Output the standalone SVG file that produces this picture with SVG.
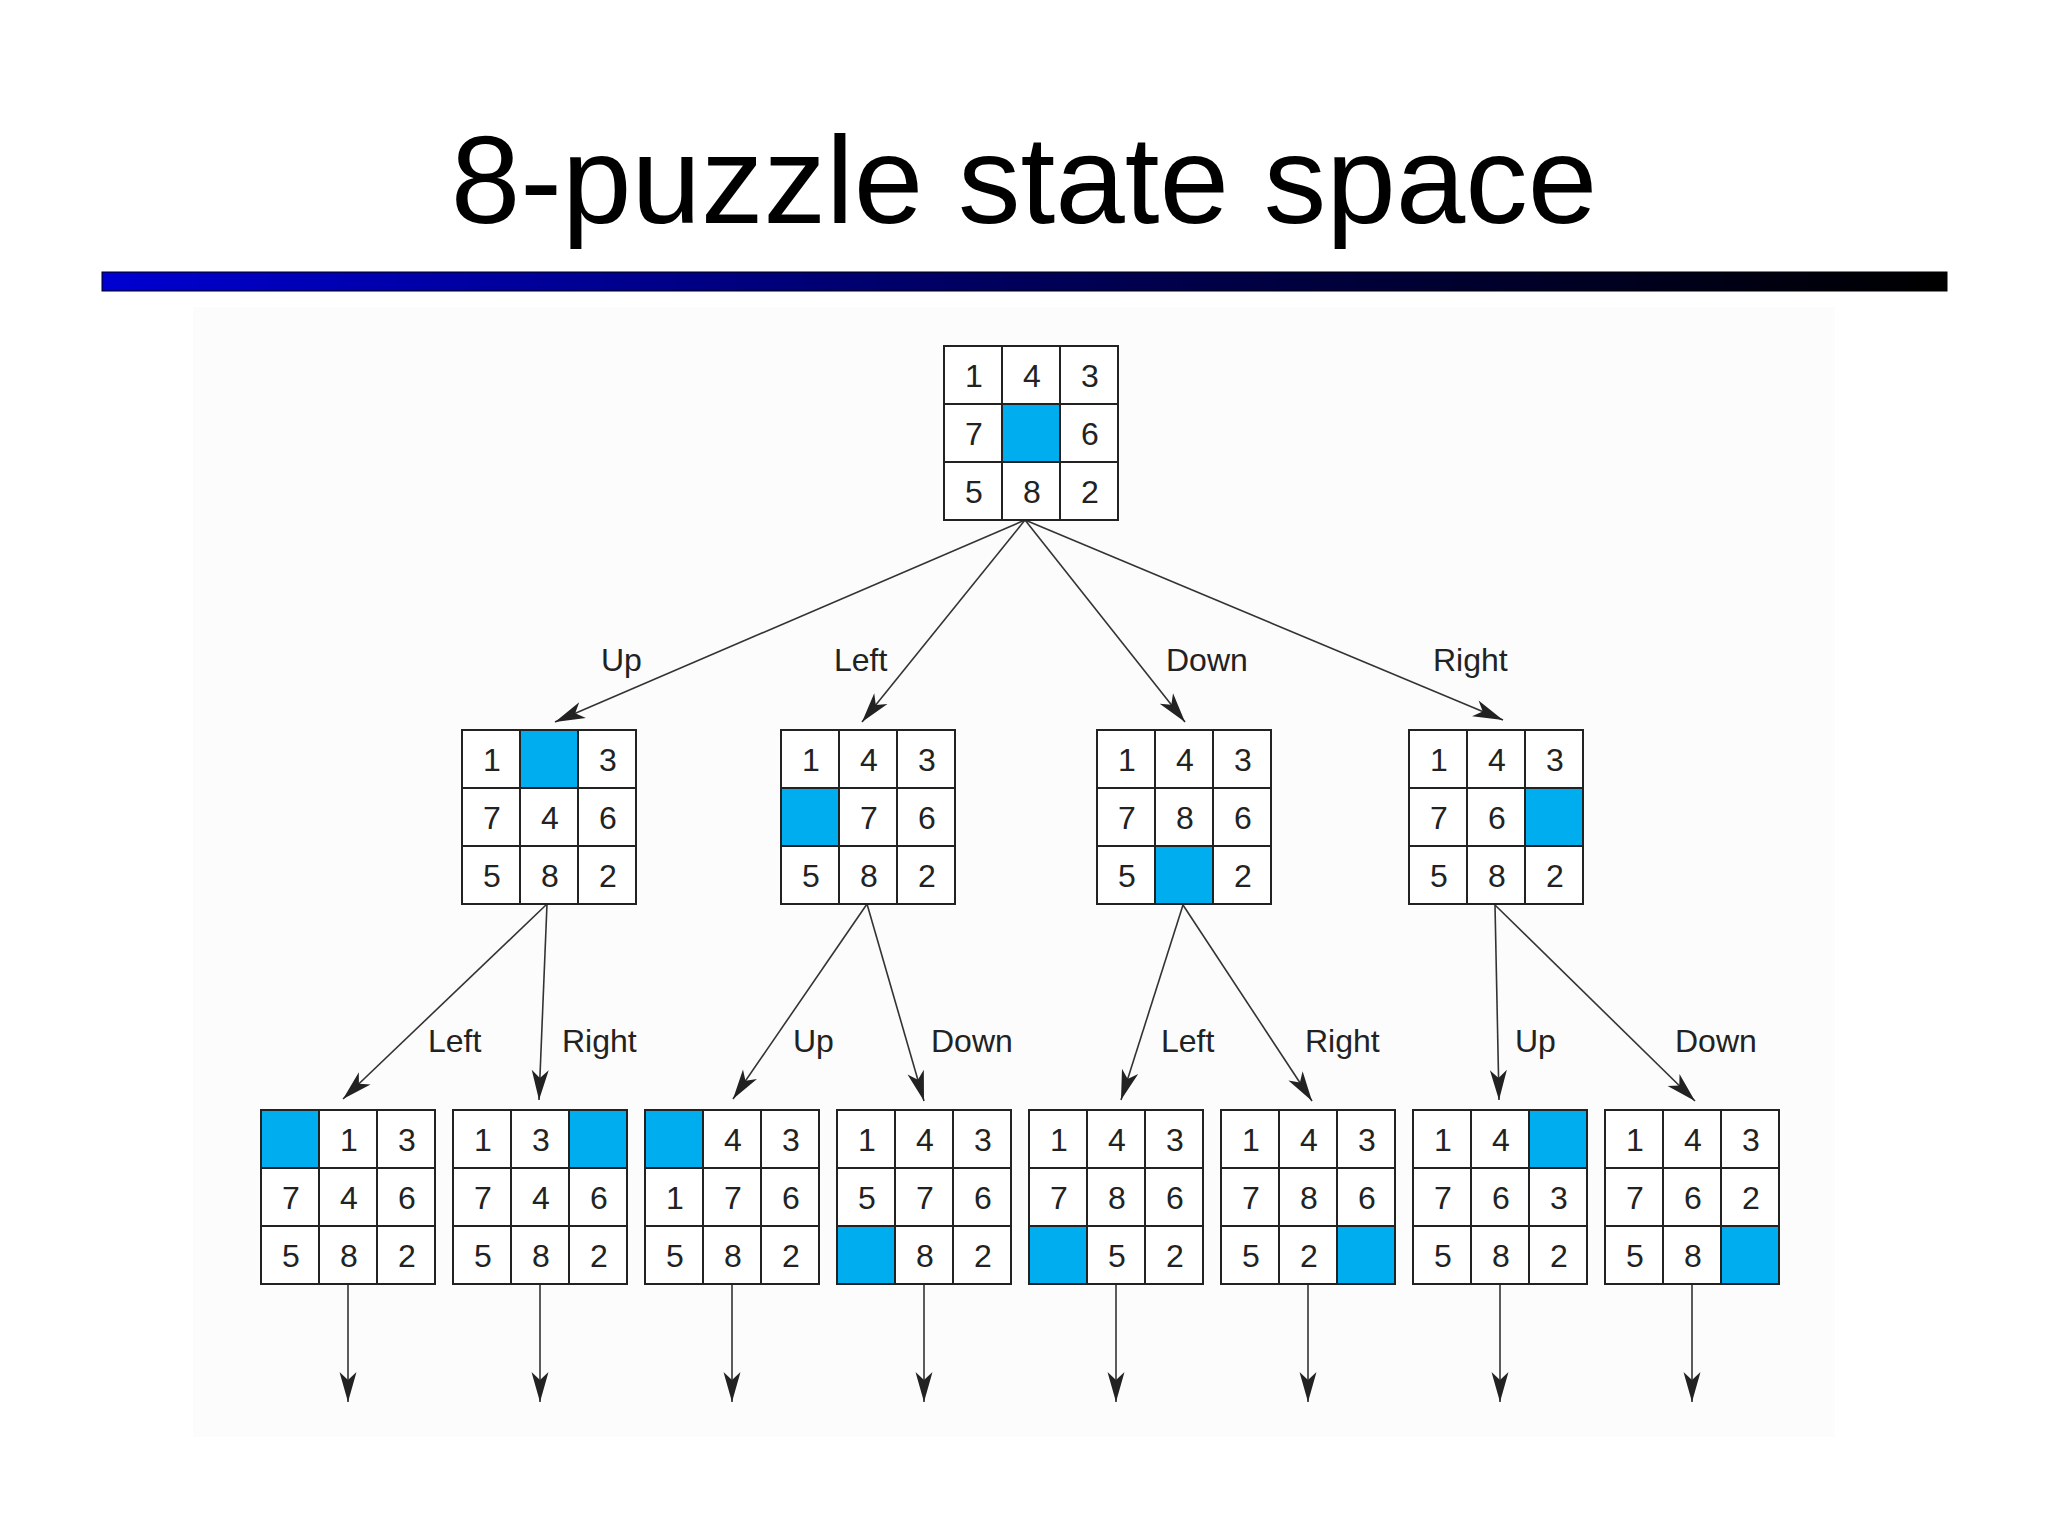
<svg xmlns="http://www.w3.org/2000/svg" xmlns:xlink="http://www.w3.org/1999/xlink" width="2048" height="1536" viewBox="0 0 2048 1536">
<style>
.title{font-family:"Liberation Sans",Arial,sans-serif;font-size:125px;fill:#000;text-anchor:middle}
.d{font-family:"Liberation Sans",Arial,sans-serif;font-size:32px;fill:#222;text-anchor:middle}
.lbl{font-family:"Liberation Sans",Arial,sans-serif;font-size:32px;fill:#222}
.grid{fill:none;stroke:#222;stroke-width:2}
.bg{fill:#fff}
.blank{fill:#00AEEF}
.edge{fill:none;stroke:#333;stroke-width:1.6;marker-end:url(#ah)}
</style>
<defs>
<linearGradient id="bar" x1="0" y1="0" x2="1" y2="0">
<stop offset="0" stop-color="#0000D2"/>
<stop offset="0.5" stop-color="#00005A"/>
<stop offset="1" stop-color="#000000"/>
</linearGradient>
<marker id="ah" markerUnits="userSpaceOnUse" markerWidth="32" markerHeight="18" viewBox="-32 -9 32 18" refX="0" refY="0" orient="auto">
<path d="M0,0 L-30,-8.5 L-22,0 L-30,8.5 Z" fill="#222"/>
</marker>
<path id="g" class="grid" d="M0,0H174V174H0Z M58,0V174 M116,0V174 M0,58H174 M0,116H174"/>
</defs>
<rect width="2048" height="1536" fill="#fff"/>
<rect x="193" y="307" width="1642" height="1130" fill="#fcfcfc"/>
<text class="title" x="1024" y="223">8-puzzle state space</text>
<rect x="102" y="272" width="1845" height="19" fill="url(#bar)" stroke="#000" stroke-width="1"/>

<g id="connectors">
<line class="edge" x1="1025" y1="520" x2="555" y2="722"/>
<line class="edge" x1="1025" y1="520" x2="862" y2="722"/>
<line class="edge" x1="1025" y1="520" x2="1185" y2="722"/>
<line class="edge" x1="1025" y1="520" x2="1503" y2="720"/>
<line class="edge" x1="547" y1="904" x2="343" y2="1099"/>
<line class="edge" x1="547" y1="904" x2="539" y2="1100"/>
<line class="edge" x1="867" y1="904" x2="733" y2="1099"/>
<line class="edge" x1="867" y1="904" x2="924" y2="1101"/>
<line class="edge" x1="1183" y1="905" x2="1121" y2="1100"/>
<line class="edge" x1="1183" y1="905" x2="1312" y2="1101"/>
<line class="edge" x1="1495" y1="905" x2="1499" y2="1100"/>
<line class="edge" x1="1495" y1="905" x2="1695" y2="1101"/>
<line class="edge" x1="348" y1="1284" x2="348" y2="1402"/>
<line class="edge" x1="540" y1="1284" x2="540" y2="1402"/>
<line class="edge" x1="732" y1="1284" x2="732" y2="1402"/>
<line class="edge" x1="924" y1="1284" x2="924" y2="1402"/>
<line class="edge" x1="1116" y1="1284" x2="1116" y2="1402"/>
<line class="edge" x1="1308" y1="1284" x2="1308" y2="1402"/>
<line class="edge" x1="1500" y1="1284" x2="1500" y2="1402"/>
<line class="edge" x1="1692" y1="1284" x2="1692" y2="1402"/>
<text class="lbl" x="601" y="671">Up</text>
<text class="lbl" x="834" y="671">Left</text>
<text class="lbl" x="1166" y="671">Down</text>
<text class="lbl" x="1433" y="671">Right</text>
<text class="lbl" x="428" y="1052">Left</text>
<text class="lbl" x="562" y="1052">Right</text>
<text class="lbl" x="793" y="1052">Up</text>
<text class="lbl" x="931" y="1052">Down</text>
<text class="lbl" x="1161" y="1052">Left</text>
<text class="lbl" x="1305" y="1052">Right</text>
<text class="lbl" x="1515" y="1052">Up</text>
<text class="lbl" x="1675" y="1052">Down</text>
</g>

<g id="root" transform="translate(944,346)">
<rect class="bg" width="174" height="174"/>
<rect class="blank" x="58" y="58" width="58" height="58"/>
<use xlink:href="#g"/>
<text class="d" x="30" y="40.5">1</text><text class="d" x="88" y="40.5">4</text><text class="d" x="146" y="40.5">3</text>
<text class="d" x="30" y="98.5">7</text><text class="d" x="146" y="98.5">6</text>
<text class="d" x="30" y="156.5">5</text><text class="d" x="88" y="156.5">8</text><text class="d" x="146" y="156.5">2</text>
</g>

<g id="up" transform="translate(462,730)">
<rect class="bg" width="174" height="174"/>
<rect class="blank" x="58" y="0" width="58" height="58"/>
<use xlink:href="#g"/>
<text class="d" x="30" y="40.5">1</text><text class="d" x="146" y="40.5">3</text>
<text class="d" x="30" y="98.5">7</text><text class="d" x="88" y="98.5">4</text><text class="d" x="146" y="98.5">6</text>
<text class="d" x="30" y="156.5">5</text><text class="d" x="88" y="156.5">8</text><text class="d" x="146" y="156.5">2</text>
</g>

<g id="left" transform="translate(781,730)">
<rect class="bg" width="174" height="174"/>
<rect class="blank" x="0" y="58" width="58" height="58"/>
<use xlink:href="#g"/>
<text class="d" x="30" y="40.5">1</text><text class="d" x="88" y="40.5">4</text><text class="d" x="146" y="40.5">3</text>
<text class="d" x="88" y="98.5">7</text><text class="d" x="146" y="98.5">6</text>
<text class="d" x="30" y="156.5">5</text><text class="d" x="88" y="156.5">8</text><text class="d" x="146" y="156.5">2</text>
</g>

<g id="down" transform="translate(1097,730)">
<rect class="bg" width="174" height="174"/>
<rect class="blank" x="58" y="116" width="58" height="58"/>
<use xlink:href="#g"/>
<text class="d" x="30" y="40.5">1</text><text class="d" x="88" y="40.5">4</text><text class="d" x="146" y="40.5">3</text>
<text class="d" x="30" y="98.5">7</text><text class="d" x="88" y="98.5">8</text><text class="d" x="146" y="98.5">6</text>
<text class="d" x="30" y="156.5">5</text><text class="d" x="146" y="156.5">2</text>
</g>

<g id="right" transform="translate(1409,730)">
<rect class="bg" width="174" height="174"/>
<rect class="blank" x="116" y="58" width="58" height="58"/>
<use xlink:href="#g"/>
<text class="d" x="30" y="40.5">1</text><text class="d" x="88" y="40.5">4</text><text class="d" x="146" y="40.5">3</text>
<text class="d" x="30" y="98.5">7</text><text class="d" x="88" y="98.5">6</text>
<text class="d" x="30" y="156.5">5</text><text class="d" x="88" y="156.5">8</text><text class="d" x="146" y="156.5">2</text>
</g>

<g id="up-left" transform="translate(261,1110)">
<rect class="bg" width="174" height="174"/>
<rect class="blank" x="0" y="0" width="58" height="58"/>
<use xlink:href="#g"/>
<text class="d" x="88" y="40.5">1</text><text class="d" x="146" y="40.5">3</text>
<text class="d" x="30" y="98.5">7</text><text class="d" x="88" y="98.5">4</text><text class="d" x="146" y="98.5">6</text>
<text class="d" x="30" y="156.5">5</text><text class="d" x="88" y="156.5">8</text><text class="d" x="146" y="156.5">2</text>
</g>

<g id="up-right" transform="translate(453,1110)">
<rect class="bg" width="174" height="174"/>
<rect class="blank" x="116" y="0" width="58" height="58"/>
<use xlink:href="#g"/>
<text class="d" x="30" y="40.5">1</text><text class="d" x="88" y="40.5">3</text>
<text class="d" x="30" y="98.5">7</text><text class="d" x="88" y="98.5">4</text><text class="d" x="146" y="98.5">6</text>
<text class="d" x="30" y="156.5">5</text><text class="d" x="88" y="156.5">8</text><text class="d" x="146" y="156.5">2</text>
</g>

<g id="left-up" transform="translate(645,1110)">
<rect class="bg" width="174" height="174"/>
<rect class="blank" x="0" y="0" width="58" height="58"/>
<use xlink:href="#g"/>
<text class="d" x="88" y="40.5">4</text><text class="d" x="146" y="40.5">3</text>
<text class="d" x="30" y="98.5">1</text><text class="d" x="88" y="98.5">7</text><text class="d" x="146" y="98.5">6</text>
<text class="d" x="30" y="156.5">5</text><text class="d" x="88" y="156.5">8</text><text class="d" x="146" y="156.5">2</text>
</g>

<g id="left-down" transform="translate(837,1110)">
<rect class="bg" width="174" height="174"/>
<rect class="blank" x="0" y="116" width="58" height="58"/>
<use xlink:href="#g"/>
<text class="d" x="30" y="40.5">1</text><text class="d" x="88" y="40.5">4</text><text class="d" x="146" y="40.5">3</text>
<text class="d" x="30" y="98.5">5</text><text class="d" x="88" y="98.5">7</text><text class="d" x="146" y="98.5">6</text>
<text class="d" x="88" y="156.5">8</text><text class="d" x="146" y="156.5">2</text>
</g>

<g id="down-left" transform="translate(1029,1110)">
<rect class="bg" width="174" height="174"/>
<rect class="blank" x="0" y="116" width="58" height="58"/>
<use xlink:href="#g"/>
<text class="d" x="30" y="40.5">1</text><text class="d" x="88" y="40.5">4</text><text class="d" x="146" y="40.5">3</text>
<text class="d" x="30" y="98.5">7</text><text class="d" x="88" y="98.5">8</text><text class="d" x="146" y="98.5">6</text>
<text class="d" x="88" y="156.5">5</text><text class="d" x="146" y="156.5">2</text>
</g>

<g id="down-right" transform="translate(1221,1110)">
<rect class="bg" width="174" height="174"/>
<rect class="blank" x="116" y="116" width="58" height="58"/>
<use xlink:href="#g"/>
<text class="d" x="30" y="40.5">1</text><text class="d" x="88" y="40.5">4</text><text class="d" x="146" y="40.5">3</text>
<text class="d" x="30" y="98.5">7</text><text class="d" x="88" y="98.5">8</text><text class="d" x="146" y="98.5">6</text>
<text class="d" x="30" y="156.5">5</text><text class="d" x="88" y="156.5">2</text>
</g>

<g id="right-up" transform="translate(1413,1110)">
<rect class="bg" width="174" height="174"/>
<rect class="blank" x="116" y="0" width="58" height="58"/>
<use xlink:href="#g"/>
<text class="d" x="30" y="40.5">1</text><text class="d" x="88" y="40.5">4</text>
<text class="d" x="30" y="98.5">7</text><text class="d" x="88" y="98.5">6</text><text class="d" x="146" y="98.5">3</text>
<text class="d" x="30" y="156.5">5</text><text class="d" x="88" y="156.5">8</text><text class="d" x="146" y="156.5">2</text>
</g>

<g id="right-down" transform="translate(1605,1110)">
<rect class="bg" width="174" height="174"/>
<rect class="blank" x="116" y="116" width="58" height="58"/>
<use xlink:href="#g"/>
<text class="d" x="30" y="40.5">1</text><text class="d" x="88" y="40.5">4</text><text class="d" x="146" y="40.5">3</text>
<text class="d" x="30" y="98.5">7</text><text class="d" x="88" y="98.5">6</text><text class="d" x="146" y="98.5">2</text>
<text class="d" x="30" y="156.5">5</text><text class="d" x="88" y="156.5">8</text>
</g>
</svg>
